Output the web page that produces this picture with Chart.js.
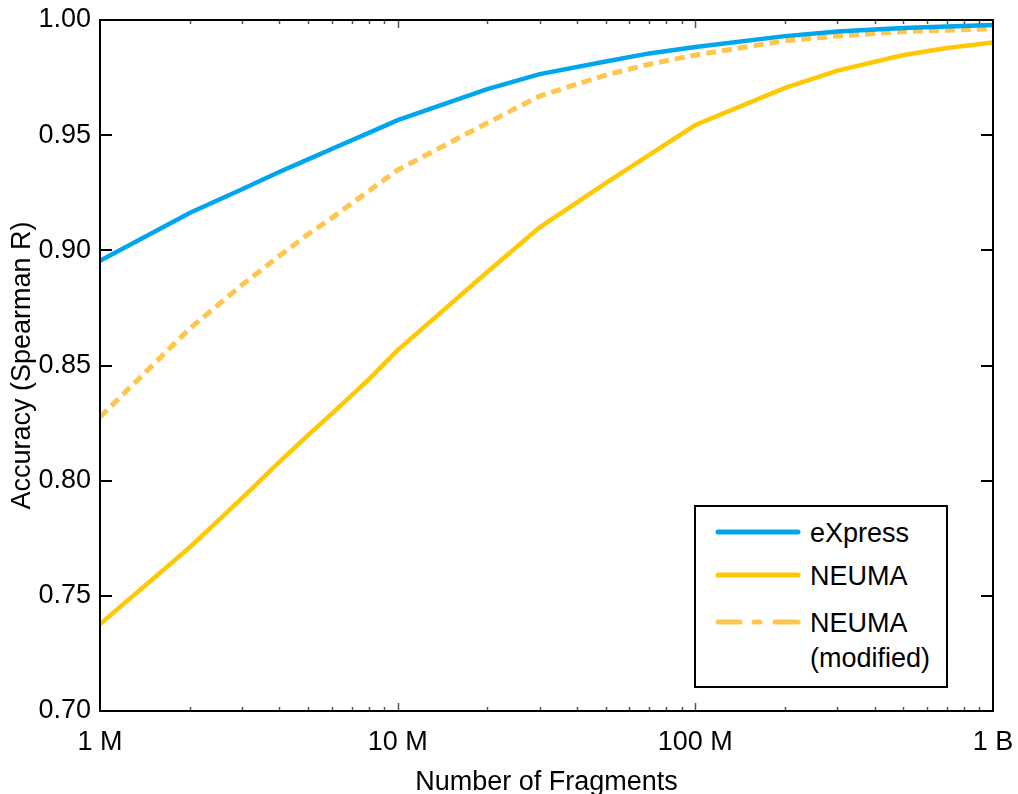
<!DOCTYPE html>
<html>
<head>
<meta charset="utf-8">
<script src="https://cdn.jsdelivr.net/npm/chart.js@4/dist/chart.umd.min.js"></script>
<style>
 body { margin: 0; background: #fff; }
 #wrap { position: relative; width: 1018px; height: 794px; }
 #chart { position: absolute; left: 0; top: 0; }
 #legend { position: absolute; left: 694px; top: 505px; width: 254px; height: 183px; box-sizing: border-box;
   border: 2px solid #000; background: #fff; font-family: "Liberation Sans", Arial, sans-serif; font-size: 27px; color: #000; }
 #legend .lbl { position: absolute; left: 114px; line-height: 30px; white-space: nowrap; }
 #legend svg { position: absolute; left: 18px; top: 0; }
</style>
</head>
<body>
<div id="wrap">
 <canvas id="chart" width="1018" height="794"></canvas>
 <div id="legend">
  <svg width="90" height="140">
   <line x1="4" y1="25" x2="84" y2="25" stroke="#00A6ED" stroke-width="5" stroke-linecap="round"/>
   <line x1="4" y1="68" x2="84" y2="68" stroke="#FFC800" stroke-width="5" stroke-linecap="round"/>
   <line x1="4" y1="115" x2="26" y2="115" stroke="#FFC64D" stroke-width="5" stroke-linecap="round"/>
   <line x1="40" y1="115" x2="46" y2="115" stroke="#FFC64D" stroke-width="5" stroke-linecap="round"/>
   <line x1="61" y1="115" x2="84" y2="115" stroke="#FFC64D" stroke-width="5" stroke-linecap="round"/>
  </svg>
  <div class="lbl" style="top:11px">eXpress</div>
  <div class="lbl" style="top:54px">NEUMA</div>
  <div class="lbl" style="top:101px">NEUMA</div>
  <div class="lbl" style="top:136px">(modified)</div>
 </div>
</div>
<script>
// fragments, in millions
const fragments = [1, 2, 3, 4, 5, 6, 8, 10, 20, 30, 50, 70, 100, 200, 300, 500, 700, 1000];

const express = [0.8955, 0.9162, 0.9265, 0.9340, 0.9395, 0.9440, 0.9510, 0.9565, 0.9700, 0.9765,
                 0.9820, 0.9855, 0.9883, 0.9930, 0.9950, 0.9965, 0.9972, 0.9978];
const neuma = [0.7377, 0.7710, 0.7924, 0.8080, 0.8198, 0.8290, 0.8440, 0.8567, 0.8906, 0.9100,
               0.9292, 0.9414, 0.9544, 0.9705, 0.9780, 0.9848, 0.9878, 0.9902];
const neumaModified = [0.8276, 0.8660, 0.8850, 0.8975, 0.9070, 0.9140, 0.9258, 0.9349, 0.9553, 0.9670,
                       0.9761, 0.9808, 0.9848, 0.9910, 0.9930, 0.9950, 0.9956, 0.9962];

// axis ticks
const xMajor = [1, 10, 100, 1000];
const xLabels = ['1 M', '10 M', '100 M', '1 B'];
const xMinor = [2, 3, 4, 5, 6, 7, 8, 9, 20, 30, 40, 50, 60, 70, 80, 90, 200, 300, 400, 500, 600, 700, 800, 900];
const yTicks = [0.70, 0.75, 0.80, 0.85, 0.90, 0.95, 1.00];

const FONT = '"Liberation Sans", Arial, sans-serif';

function pts(vals) {
  return fragments.map((x, i) => ({x: x, y: vals[i]}));
}

// frame + inward ticks on all four sides
const frameTicks = {
  id: 'frameTicks',
  afterDatasetsDraw(chart) {
    const ctx = chart.ctx;
    const a = chart.chartArea;
    const xs = chart.scales.x, ys = chart.scales.y;
    ctx.save();
    ctx.strokeStyle = '#555';
    ctx.lineWidth = 1.5;
    xMinor.forEach(v => {
      const px = Math.round(xs.getPixelForValue(v)) + 0.5;
      ctx.beginPath();
      ctx.moveTo(px, a.bottom); ctx.lineTo(px, a.bottom - 4);
      ctx.moveTo(px, a.top); ctx.lineTo(px, a.top + 4);
      ctx.stroke();
    });
    xMajor.slice(1, -1).forEach(v => {
      const px = Math.round(xs.getPixelForValue(v)) + 0.5;
      ctx.beginPath();
      ctx.moveTo(px, a.bottom); ctx.lineTo(px, a.bottom - 8);
      ctx.moveTo(px, a.top); ctx.lineTo(px, a.top + 8);
      ctx.stroke();
    });
    ctx.strokeStyle = '#000';
    ctx.lineWidth = 2;
    yTicks.slice(1, -1).forEach(v => {
      const py = Math.round(ys.getPixelForValue(v));
      ctx.beginPath();
      ctx.moveTo(a.left, py); ctx.lineTo(a.left + 12, py);
      ctx.moveTo(a.right, py); ctx.lineTo(a.right - 12, py);
      ctx.stroke();
    });
    ctx.strokeRect(a.left, a.top, a.right - a.left, a.bottom - a.top);
    ctx.restore();
  }
};

new Chart(document.getElementById('chart').getContext('2d'), {
  type: 'line',
  data: {
    datasets: [
      {
        label: 'eXpress',
        data: pts(express),
        borderColor: '#00A6ED',
        borderWidth: 4.5,
        pointRadius: 0,
        tension: 0,
        fill: false
      },
      {
        label: 'NEUMA',
        data: pts(neuma),
        borderColor: '#FFC800',
        borderWidth: 4.5,
        pointRadius: 0,
        tension: 0,
        fill: false
      },
      {
        label: 'NEUMA (modified)',
        data: pts(neumaModified),
        borderColor: '#FFC64D',
        borderWidth: 5,
        borderDash: [10, 6],
        pointRadius: 0,
        tension: 0,
        fill: false
      }
    ]
  },
  options: {
    responsive: false,
    animation: false,
    devicePixelRatio: 1,
    layout: { padding: { top: 20, right: 25, left: 0, bottom: 0 } },
    plugins: { legend: { display: false }, tooltip: { enabled: false } },
    scales: {
      x: {
        type: 'logarithmic',
        min: 1,
        max: 1000,
        grid: { display: false, drawTicks: false },
        border: { display: false },
        afterBuildTicks: s => { s.ticks = xMajor.map(v => ({value: v})); },
        afterFit: s => { s.height = 83; s.paddingLeft = 0; s.paddingRight = 0; },
        ticks: {
          autoSkip: false,
          maxRotation: 0,
          padding: 15,
          color: '#000',
          font: { family: FONT, size: 27 },
          callback: v => xLabels[xMajor.indexOf(v)]
        },
        title: {
          display: true,
          text: 'Number of Fragments',
          color: '#000',
          font: { family: FONT, size: 27, lineHeight: 1 },
          padding: { top: 0, bottom: -2 }
        }
      },
      y: {
        min: 0.70,
        max: 1.00,
        grid: { display: false, drawTicks: false },
        border: { display: false },
        afterBuildTicks: s => { s.ticks = yTicks.map(v => ({value: v})); },
        afterFit: s => { s.width = 100; s.paddingTop = 0; s.paddingBottom = 0; },
        ticks: {
          padding: 9,
          color: '#000',
          font: { family: FONT, size: 27 },
          callback: v => Number(v).toFixed(2)
        },
        title: {
          display: true,
          text: 'Accuracy (Spearman R)',
          color: '#000',
          font: { family: FONT, size: 27, lineHeight: 1 },
          padding: { top: 9, bottom: 0 }
        }
      }
    }
  },
  plugins: [frameTicks]
});
</script>
</body>
</html>
